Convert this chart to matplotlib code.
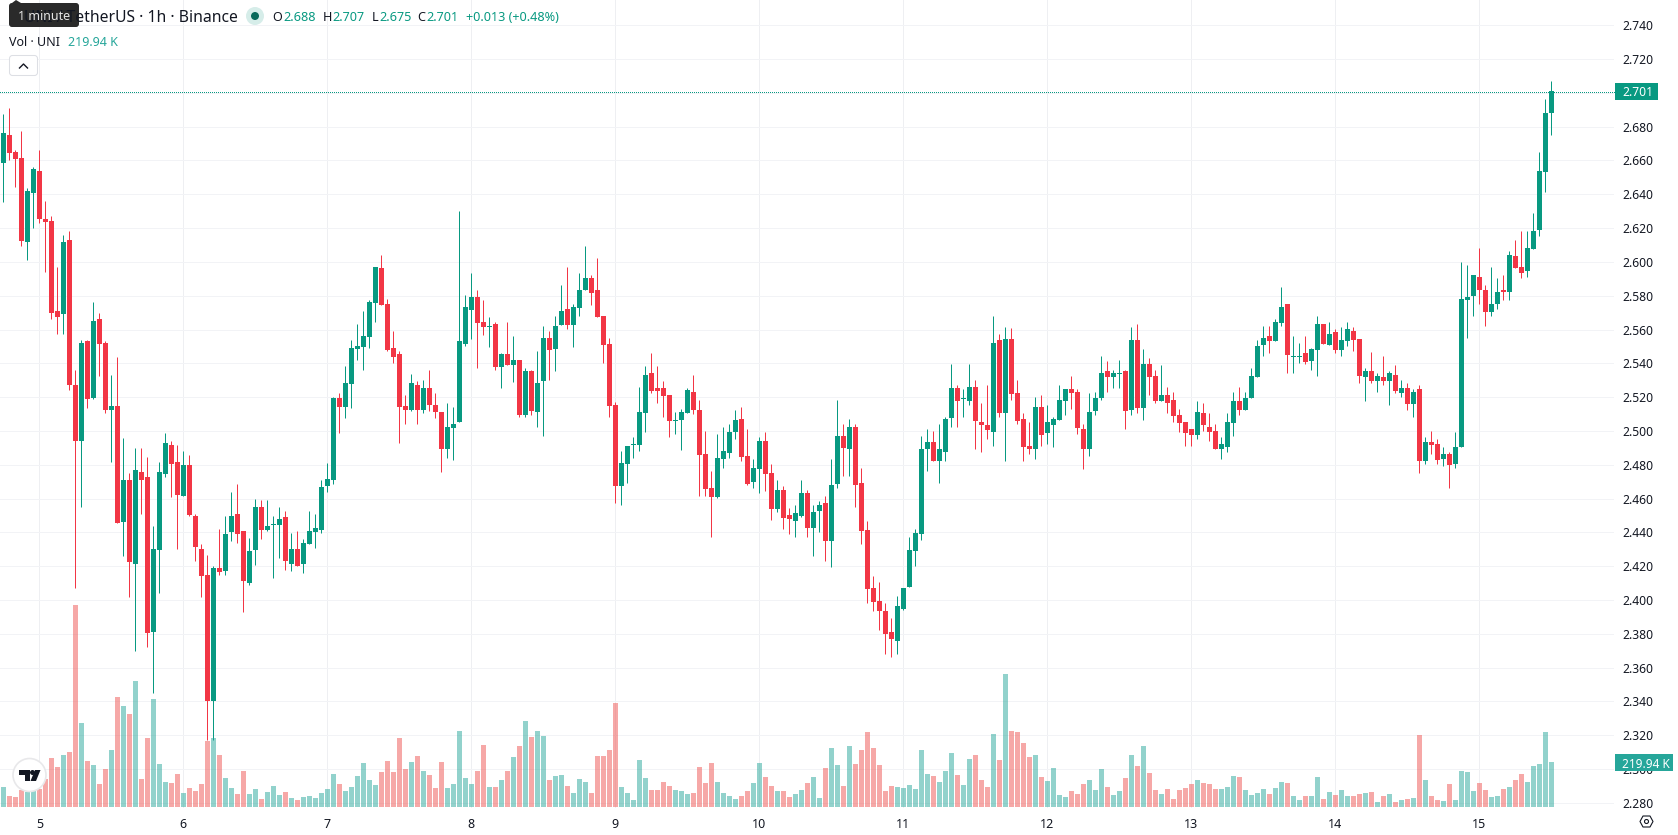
#!/usr/bin/env python3

from matplotlib import pyplot as plt
from matplotlib.patches import Circle, FancyBboxPatch, Polygon, Rectangle
import numpy as np

# UNI/USDT hourly candles, first bar is the 4th at 18:00
opens = [
    2.6587, 2.6751, 2.665, 2.6615, 2.612, 2.641, 2.654, 2.6254, 2.624, 2.571,
    2.569, 2.613, 2.527, 2.494, 2.553, 2.5196, 2.566, 2.552, 2.5125, 2.5145,
    2.4461, 2.4708, 2.4213, 2.4755, 2.4726, 2.381, 2.4296, 2.4744, 2.4915, 2.4815,
    2.4613, 2.4797, 2.4495, 2.430, 2.4146, 2.3402, 2.4187, 2.417, 2.44, 2.4507,
    2.4406, 2.4099, 2.4294, 2.4548, 2.4412, 2.4442, 2.4442, 2.4489, 2.4211, 2.43,
    2.4211, 2.4329, 2.44, 2.4412, 2.4673, 2.4708, 2.5194, 2.514, 2.528, 2.5484,
    2.5496, 2.5555, 2.5759, 2.5964, 2.5751, 2.549, 2.5455, 2.5146, 2.5122, 2.5271,
    2.5122, 2.5256, 2.5155, 2.5113, 2.489, 2.502, 2.505, 2.5517, 2.5716, 2.5793,
    2.5645, 2.5615, 2.5633, 2.5381, 2.5455, 2.5387, 2.542, 2.5095, 2.5356, 2.5109,
    2.5293, 2.5551, 2.5486, 2.5627, 2.5722, 2.5627, 2.5728, 2.5835, 2.5906, 2.5835,
    2.5681, 2.5515, 2.5155, 2.4675, 2.4805, 2.4917, 2.4917, 2.5107, 2.5344, 2.5255,
    2.5255, 2.5214, 2.506, 2.5066, 2.5107, 2.5232, 2.5125, 2.4865, 2.4663, 2.461,
    2.4834, 2.487, 2.4995, 2.5072, 2.4852, 2.4699, 2.4776, 2.4942, 2.4752, 2.4539,
    2.4652, 2.4504, 2.4468, 2.4498, 2.4634, 2.4427, 2.4527, 2.4575, 2.435, 2.4687,
    2.4972, 2.489, 2.5026, 2.4694, 2.4416, 2.4073, 2.3996, 2.3937, 2.3813, 2.3759,
    2.3949, 2.4079, 2.4292, 2.4387, 2.489, 2.4937, 2.4819, 2.4878, 2.5079, 2.5256,
    2.5191, 2.5179, 2.5262, 2.5055, 2.5037, 2.4996, 2.5535, 2.5108, 2.5546, 2.5227,
    2.5073, 2.4913, 2.489, 2.5144, 2.499, 2.5037, 2.5067, 2.5179, 2.5245, 2.5233,
    2.5014, 2.489, 2.512, 2.5197, 2.5357, 2.5321, 2.5339, 2.5357, 2.5126, 2.5535,
    2.5138, 2.5393, 2.5327, 2.5179, 2.5215, 2.5185, 2.5097, 2.5055, 2.5014, 2.4978,
    2.5103, 2.5026, 2.5002, 2.489, 2.4907, 2.5049, 2.5174, 2.5126, 2.5197, 2.5321,
    2.5511, 2.5564, 2.5529, 2.5641, 2.5748, 2.544, 2.544, 2.5458, 2.5416, 2.5481,
    2.5635, 2.5511, 2.5588, 2.5481, 2.5529, 2.5594, 2.5546, 2.5321, 2.5357, 2.5298,
    2.5316, 2.5298, 2.5333, 2.5227, 2.5256, 2.5162, 2.5245, 2.4819, 2.4937, 2.4925,
    2.4836, 2.4866, 2.4807, 2.4907, 2.5777, 2.5801, 2.5913, 2.5836, 2.5706, 2.5748,
    2.5836, 2.5819, 2.6037, 2.5972, 2.5949, 2.6079, 2.6191, 2.6529, 2.688,
]
highs = [
    2.6875, 2.691, 2.666, 2.6774, 2.644, 2.656, 2.666, 2.636, 2.627, 2.597,
    2.616, 2.618, 2.536, 2.554, 2.554, 2.576, 2.570, 2.553, 2.533, 2.544,
    2.4956, 2.475, 2.4897, 2.4897, 2.4844, 2.4436, 2.4815, 2.4986, 2.4939, 2.4915,
    2.488, 2.4856, 2.4507, 2.433, 2.4264, 2.42, 2.4418, 2.4495, 2.4637, 2.4684,
    2.4406, 2.4365, 2.4596, 2.459, 2.459, 2.4495, 2.4548, 2.4525, 2.4394, 2.4406,
    2.4359, 2.4525, 2.4507, 2.4708, 2.4809, 2.52, 2.5222, 2.5384, 2.554, 2.5632,
    2.5709, 2.5774, 2.597, 2.6041, 2.578, 2.5591, 2.5473, 2.5212, 2.5336, 2.5295,
    2.5303, 2.5362, 2.5226, 2.5113, 2.5166, 2.5142, 2.630, 2.5805, 2.5935, 2.5834,
    2.5775, 2.5675, 2.5645, 2.5461, 2.5645, 2.556, 2.542, 2.5374, 2.5362, 2.5474,
    2.5622, 2.5592, 2.5681, 2.5864, 2.597, 2.5751, 2.5935, 2.6095, 2.5923, 2.6025,
    2.5681, 2.5551, 2.5172, 2.4882, 2.4911, 2.4964, 2.5261, 2.5385, 2.5462, 2.5385,
    2.5297, 2.5214, 2.5113, 2.5131, 2.5255, 2.5332, 2.5184, 2.5, 2.4763, 2.4982,
    2.5024, 2.5042, 2.5125, 2.5143, 2.5013, 2.4835, 2.4965, 2.4995, 2.4805, 2.4711,
    2.4675, 2.4545, 2.4563, 2.4711, 2.4652, 2.4563, 2.4587, 2.4616, 2.4835, 2.5184,
    2.5043, 2.5073, 2.5043, 2.4783, 2.4464, 2.4144, 2.4103, 2.3984, 2.3895, 2.4026,
    2.4073, 2.4375, 2.4422, 2.4972, 2.5014, 2.5002, 2.5043, 2.5085, 2.5393, 2.5274,
    2.5245, 2.5393, 2.5304, 2.5168, 2.5274, 2.5682, 2.5576, 2.5617, 2.5606, 2.5304,
    2.5103, 2.5055, 2.5203, 2.5215, 2.5156, 2.5085, 2.5274, 2.5245, 2.5327, 2.5245,
    2.5043, 2.5227, 2.5233, 2.5446, 2.5416, 2.5363, 2.5422, 2.5363, 2.5617, 2.5635,
    2.5487, 2.5434, 2.5363, 2.5387, 2.5262, 2.5233, 2.5132, 2.5055, 2.5014, 2.5174,
    2.5168, 2.5103, 2.5043, 2.4966, 2.5103, 2.5233, 2.5262, 2.5233, 2.5375, 2.5535,
    2.5623, 2.5623, 2.5665, 2.5854, 2.5748, 2.5564, 2.5523, 2.5564, 2.5493, 2.5677,
    2.5635, 2.5647, 2.5605, 2.5617, 2.5647, 2.5617, 2.5546, 2.5375, 2.5464, 2.5345,
    2.5446, 2.5357, 2.5387, 2.5304, 2.5286, 2.5245, 2.5274, 2.4966, 2.5002, 2.4955,
    2.4907, 2.4878, 2.4996, 2.6002, 2.5984, 2.5925, 2.6085, 2.5866, 2.5972, 2.5907,
    2.5925, 2.6067, 2.6132, 2.6185, 2.6185, 2.6292, 2.6653, 2.6966, 2.707,
]
lows = [
    2.6356, 2.6603, 2.6445, 2.6094, 2.601, 2.620, 2.623, 2.594, 2.566, 2.5575,
    2.5575, 2.524, 2.407, 2.455, 2.5136, 2.519, 2.5327, 2.5107, 2.4816, 2.4455,
    2.426, 2.4018, 2.3698, 2.4507, 2.3722, 2.345, 2.404, 2.4726, 2.461, 2.430,
    2.4613, 2.4495, 2.4229, 2.4018, 2.317, 2.317, 2.4146, 2.4146, 2.4347, 2.4335,
    2.3927, 2.4087, 2.4205, 2.4359, 2.4406, 2.4128, 2.4247, 2.4176, 2.417, 2.4199,
    2.4158, 2.4329, 2.4306, 2.4394, 2.4637, 2.4684, 2.4986, 2.5075, 2.5136, 2.542,
    2.536, 2.549, 2.5644, 2.5747, 2.5473, 2.5402, 2.4927, 2.504, 2.5116, 2.504,
    2.5103, 2.5115, 2.5074, 2.4755, 2.4837, 2.4825, 2.505, 2.5505, 2.5546, 2.5374,
    2.5565, 2.5494, 2.5363, 2.5255, 2.5387, 2.5287, 2.5085, 2.5085, 2.5095, 2.5026,
    2.4971, 2.5303, 2.5355, 2.5627, 2.5603, 2.5494, 2.5681, 2.5835, 2.5746, 2.5675,
    2.5402, 2.5083, 2.4575, 2.4563, 2.4692, 2.484, 2.4882, 2.4995, 2.5226, 2.5166,
    2.5083, 2.4965, 2.4982, 2.4889, 2.5107, 2.5101, 2.4615, 2.4615, 2.4375, 2.4604,
    2.4781, 2.484, 2.4953, 2.4824, 2.4681, 2.4664, 2.4634, 2.4646, 2.4474, 2.4521,
    2.4421, 2.4391, 2.4373, 2.4492, 2.4373, 2.426, 2.4403, 2.4232, 2.4197, 2.4664,
    2.4736, 2.4736, 2.4552, 2.4333, 2.3984, 2.3937, 2.3824, 2.3682, 2.3665, 2.3682,
    2.3943, 2.4079, 2.4203, 2.4357, 2.4765, 2.4819, 2.4694, 2.4824, 2.5026, 2.5026,
    2.5085, 2.5156, 2.4895, 2.4878, 2.4955, 2.4913, 2.5085, 2.4824, 2.5185, 2.5043,
    2.4824, 2.4866, 2.4836, 2.4913, 2.4925, 2.4907, 2.5067, 2.5097, 2.5132, 2.4984,
    2.4777, 2.4854, 2.5097, 2.5185, 2.5233, 2.5256, 2.5256, 2.5014, 2.5097, 2.5103,
    2.5067, 2.5215, 2.5168, 2.5179, 2.5103, 2.5055, 2.4996, 2.4913, 2.4913, 2.4955,
    2.5002, 2.4943, 2.489, 2.4836, 2.4878, 2.4972, 2.5097, 2.5126, 2.5197, 2.5321,
    2.5446, 2.5458, 2.5529, 2.5623, 2.5345, 2.5345, 2.5404, 2.5393, 2.5363, 2.5327,
    2.5517, 2.5511, 2.5458, 2.5446, 2.5505, 2.5475, 2.5286, 2.5174, 2.5286, 2.5233,
    2.5274, 2.5156, 2.5227, 2.5203, 2.5126, 2.5085, 2.4753, 2.4807, 2.4866, 2.4807,
    2.4795, 2.4665, 2.4783, 2.4907, 2.5552, 2.5677, 2.5748, 2.5623, 2.5682, 2.5724,
    2.5777, 2.5777, 2.5966, 2.5907, 2.5913, 2.6079, 2.6156, 2.6416, 2.675,
]
closes = [
    2.6763, 2.6646, 2.661, 2.6125, 2.642, 2.655, 2.6256, 2.6238, 2.570, 2.5676,
    2.612, 2.527, 2.494, 2.552, 2.519, 2.565, 2.5516, 2.5125, 2.5145, 2.4455,
    2.4708, 2.4225, 2.4767, 2.4708, 2.3805, 2.430, 2.4755, 2.4927, 2.4803, 2.462,
    2.4797, 2.450, 2.4312, 2.414, 2.3402, 2.4187, 2.4164, 2.4389, 2.4495, 2.4389,
    2.411, 2.4288, 2.4548, 2.4412, 2.4436, 2.4448, 2.4477, 2.4229, 2.43, 2.4199,
    2.4335, 2.4406, 2.4424, 2.4667, 2.4714, 2.5194, 2.514, 2.5283, 2.549, 2.5502,
    2.5561, 2.5763, 2.597, 2.5747, 2.5478, 2.5437, 2.514, 2.5122, 2.5283, 2.5122,
    2.5256, 2.5151, 2.5109, 2.489, 2.5024, 2.5042, 2.5533, 2.5734, 2.5793, 2.5641,
    2.5612, 2.5621, 2.5381, 2.5455, 2.5387, 2.542, 2.5095, 2.5356, 2.5119, 2.5285,
    2.5551, 2.548, 2.5622, 2.571, 2.5627, 2.5734, 2.5835, 2.5906, 2.5817, 2.5675,
    2.5509, 2.5148, 2.4675, 2.4811, 2.4911, 2.4923, 2.5113, 2.5332, 2.5237, 2.5237,
    2.5208, 2.506, 2.5066, 2.5113, 2.5243, 2.5125, 2.4858, 2.4657, 2.461, 2.484,
    2.4882, 2.4995, 2.5066, 2.4847, 2.4687, 2.4782, 2.4942, 2.4746, 2.4539, 2.4652,
    2.4486, 2.448, 2.4516, 2.4634, 2.4427, 2.4521, 2.4563, 2.435, 2.4681, 2.4971,
    2.4901, 2.5026, 2.4677, 2.441, 2.4067, 2.399, 2.3937, 2.3801, 2.3771, 2.3966,
    2.4073, 2.4298, 2.4393, 2.4895, 2.4937, 2.4819, 2.4895, 2.5073, 2.5256, 2.5179,
    2.5197, 2.5262, 2.5061, 2.5032, 2.5008, 2.5523, 2.5108, 2.5546, 2.5221, 2.5061,
    2.4907, 2.489, 2.5144, 2.4978, 2.5055, 2.5073, 2.5185, 2.5245, 2.5227, 2.502,
    2.489, 2.5114, 2.5197, 2.5345, 2.5321, 2.5345, 2.5345, 2.512, 2.5535, 2.5138,
    2.5393, 2.5321, 2.5179, 2.5215, 2.5168, 2.5091, 2.5049, 2.499, 2.4978, 2.5114,
    2.5032, 2.4996, 2.489, 2.4925, 2.5055, 2.5174, 2.5126, 2.5197, 2.5327, 2.5505,
    2.5552, 2.5529, 2.5647, 2.5736, 2.5452, 2.5446, 2.5446, 2.541, 2.5487, 2.5635,
    2.5517, 2.5576, 2.5481, 2.5535, 2.5605, 2.554, 2.5327, 2.5357, 2.5298, 2.5327,
    2.5298, 2.5345, 2.5239, 2.5256, 2.5162, 2.5233, 2.4819, 2.4937, 2.4919, 2.483,
    2.4866, 2.4801, 2.4907, 2.5783, 2.5795, 2.5925, 2.5836, 2.5706, 2.5748, 2.5824,
    2.5819, 2.6043, 2.5966, 2.5937, 2.6085, 2.6185, 2.6535, 2.6884, 2.701,
]
# volume in thousands
volumes = [
    97, 52, 48, 82, 74, 82, 87, 136, 239, 195,
    254, 269, 992, 412, 225, 205, 112, 185, 279, 540,
    495, 456, 618, 136, 338, 530, 210, 121, 116, 161,
    67, 92, 77, 112, 323, 338, 254, 141, 92, 62,
    175, 62, 87, 38, 72, 102, 57, 72, 43, 33,
    48, 52, 43, 67, 87, 161, 112, 77, 97, 151,
    215, 131, 107, 171, 225, 171, 338, 185, 220, 249,
    175, 156, 92, 220, 92, 112, 372, 141, 112, 175,
    303, 97, 97, 131, 175, 244, 298, 421, 343, 372,
    348, 131, 151, 156, 102, 67, 136, 121, 67, 249,
    249, 279, 510, 97, 67, 33, 230, 141, 82, 82,
    121, 102, 82, 77, 62, 67, 195, 116, 215, 121,
    67, 52, 38, 52, 77, 116, 215, 146, 102, 77,
    77, 48, 62, 82, 116, 146, 43, 190, 289, 205,
    102, 298, 210, 279, 367, 289, 205, 77, 102, 97,
    92, 107, 87, 279, 161, 151, 121, 175, 264, 156,
    107, 235, 254, 131, 97, 358, 230, 653, 372, 367,
    313, 244, 254, 146, 126, 190, 57, 48, 77, 62,
    112, 131, 82, 185, 97, 57, 77, 141, 254, 200,
    298, 166, 82, 62, 87, 38, 82, 92, 112, 131,
    116, 112, 87, 87, 97, 151, 146, 82, 57, 67,
    87, 62, 92, 121, 116, 52, 33, 52, 52, 146,
    38, 72, 57, 82, 52, 52, 62, 67, 72, 23,
    52, 62, 23, 33, 38, 43, 353, 131, 52, 33,
    28, 112, 33, 175, 171, 77, 116, 82, 48, 52,
    87, 97, 131, 161, 121, 200, 210, 367, 219.94,
]
day_labels = ['5', '6', '7', '8', '9', '10', '11', '12', '13', '14', '15']
bold_days = ['8', '15']
price_ticks = [2.28, 2.30, 2.32, 2.34, 2.36, 2.38, 2.40, 2.42, 2.44, 2.46, 2.48, 2.50,
               2.52, 2.54, 2.56, 2.58, 2.60, 2.62, 2.64, 2.66, 2.68, 2.70, 2.72, 2.74]
last_price = 2.701
last_volume = 219.94

GREEN = '#089981'
RED = '#F23645'
VOL_GREEN = '#26A69A'
VOL_RED = '#EF5350'
TEXT = '#131722'
FONT = 'Noto Sans'
W, H = 1678, 835
PLOT_W, PLOT_H = 1614, 808
PX = 0.72  # one pixel in points at 100 dpi

plt.rcParams['font.family'] = [FONT, 'DejaVu Sans']

fig = plt.figure(figsize=(W / 100, H / 100), dpi=100, facecolor='white')
rect = [0, 1 - PLOT_H / H, PLOT_W / W, PLOT_H / H]

# price pane: 6 px per bar, 1690 px per price unit
ax = fig.add_axes(rect, zorder=1)
ax_vol = fig.add_axes(rect, zorder=2)
ax_vol.patch.set_visible(False)

idx = np.arange(len(closes))
o, h, l, c = map(np.array, (opens, highs, lows, closes))
up = c >= o

ax.vlines(idx, l, h, colors=np.where(up, GREEN, RED), linewidth=PX, zorder=3)
ax.bar(idx, np.maximum(np.abs(c - o), 0.0006), bottom=np.minimum(o, c), width=5 / 6,
       color=np.where(up, GREEN, RED), linewidth=0, zorder=4)

ax.set_xlim(-0.567, 268.43)
ax.set_ylim(2.68 - (PLOT_H - 126.7) / 1690, 2.68 + 126.7 / 1690)

# day ticks start at midnight on the 5th, bar 6
day_pos = [6 + 24 * n for n in range(len(day_labels))]
ax.set_xticks(day_pos)
ax.set_xticklabels(day_labels, fontsize=9)
for t, lab in zip(ax.get_xticklabels(), day_labels):
    t.set_color(TEXT)
    if lab in bold_days:
        t.set_fontweight('bold')
ax.yaxis.tick_right()
ax.set_yticks(price_ticks)
ax.set_yticklabels([f'{p:.3f}' for p in price_ticks], fontsize=8.7, color=TEXT,
                   va='center_baseline')
ax.tick_params(axis='both', length=0)
ax.tick_params(axis='x', pad=7)
ax.tick_params(axis='y', pad=6)
ax.grid(True, axis='x', color='#EEEFF2', linewidth=PX, zorder=0)
ax.grid(True, axis='y', color='#F2F3F6', linewidth=PX, zorder=0)
ax.set_axisbelow(True)
for s in ax.spines.values():
    s.set_visible(False)

# volume pane shares the x scale, 4.92k per pixel
ax_vol.bar(idx, volumes, width=5 / 6, color=np.where(up, VOL_GREEN, VOL_RED),
           alpha=0.5, linewidth=0)
ax_vol.set_xlim(ax.get_xlim())
ax_vol.set_ylim(-4.92, (PLOT_H - 1) * 4.92)
ax_vol.axis('off')

# overlay in pixel coordinates for the header, axis tags and logo
ov = fig.add_axes([0, 0, 1, 1], zorder=5)
ov.set_xlim(0, W)
ov.set_ylim(H, 0)
ov.axis('off')

# last price line runs through to the tag on the axis, kept on a pixel row
y_last = 126.7 + (2.68 - last_price) * 1690
y_row = np.floor(y_last) + 0.5
ov.plot([0, 1615], [y_row, y_row], color=GREEN, linewidth=PX, linestyle=(0, (1, 2)),
        dash_capstyle='butt', antialiased=False)

ov.add_patch(Rectangle((1615, y_last - 8.5), 42.5, 17, color=GREEN, linewidth=0))
ov.text(1622, y_last, f'{last_price:.3f}', color='white', fontsize=8.7, va='center_baseline')
ov.add_patch(Rectangle((1615, 754), 58, 17, color=VOL_GREEN, linewidth=0))
ov.text(1622, 762.5, f'{last_volume:.2f} K', color='white', fontsize=8.5, va='center_baseline')

ov.text(238, 16, 'UNI / TetherUS · 1h · Binance', color=TEXT, fontsize=11.3, ha='right', va='center_baseline')
ov.add_patch(Circle((255, 16), 9, color='#D6EDE9', linewidth=0))
ov.add_patch(Circle((255, 16), 4, color='#08695A', linewidth=0))
for x, s in [(272.7, 'O'), (322.8, 'H'), (371.5, 'L'), (417.5, 'C')]:
    ov.text(x, 16, s, color=TEXT, fontsize=9.1, va='center_baseline')
for x, s in [(283.6, '2.688'), (332.7, '2.707'), (379, '2.675'), (426, '2.701'), (465.5, '+0.013 (+0.48%)')]:
    ov.text(x, 16, s, color=GREEN, fontsize=9.1, va='center_baseline')

ov.text(9, 41, 'Vol · UNI', color=TEXT, fontsize=9, va='center_baseline')
ov.text(68, 41, '219.94 K', color=VOL_GREEN, fontsize=9, va='center_baseline')

# collapse button
ov.add_patch(FancyBboxPatch((9.5, 55.5), 28, 20, boxstyle='round,pad=0,rounding_size=3',
                            facecolor='white', edgecolor='#DDDFE4', linewidth=0.75))
ov.plot([19.5, 23.5, 27.5], [68, 64, 68], color=TEXT, linewidth=1)

# tooltip sits on top of the symbol title
ov.add_patch(FancyBboxPatch((9, 3), 70, 24, boxstyle='round,pad=0,rounding_size=3',
                            facecolor='#2A2A2A', edgecolor='none', linewidth=0))
ov.add_patch(Polygon([[12, 3], [16, 0], [21, 3]], color='#2A2A2A', linewidth=0))
ov.text(44, 15.5, '1 minute', color='#E4E4E4', fontsize=9, ha='center', va='center_baseline')

# logo badge
ov.add_patch(Circle((29.5, 775), 16.5, facecolor='white', edgecolor='#E8E8EA', linewidth=1.2))
ov.add_patch(Polygon([[19, 770], [30, 770], [30, 781], [25, 781], [25, 775], [19, 775]],
                     color=TEXT, linewidth=0))
ov.add_patch(Circle((32.5, 772.5), 2.5, color=TEXT, linewidth=0))
ov.add_patch(Polygon([[35, 770], [40.5, 770], [36, 781], [30.5, 781]], color=TEXT, linewidth=0))

# settings icon at the end of the time axis
ov.add_patch(Polygon([[1640, 821.5], [1643, 816], [1650, 816], [1653, 821.5], [1650, 827], [1643, 827]],
                     closed=True, fill=False, edgecolor=TEXT, linewidth=0.8))
ov.add_patch(Circle((1646.5, 821.5), 2, fill=False, edgecolor=TEXT, linewidth=0.8))

plt.savefig('out.png', dpi=100)
